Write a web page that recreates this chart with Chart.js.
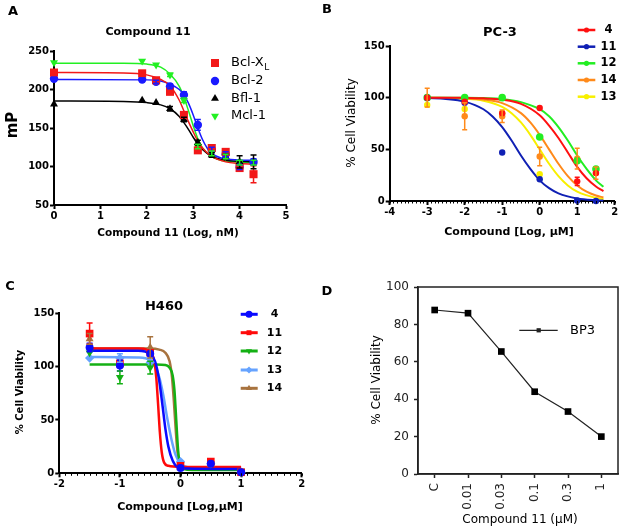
<!DOCTYPE html>
<html>
<head>
<meta charset="utf-8">
<script src="https://cdn.jsdelivr.net/npm/chart.js@4.4.0/dist/chart.umd.min.js"></script>
<style>
  html, body { margin: 0; padding: 0; background: #fff; }
  #fig { position: relative; width: 624px; height: 530px; }
  #fig canvas { position: absolute; display: block; }
</style>
</head>
<body>
<div id="fig">
  <canvas id="chartA" width="312" height="265" style="left:0;top:0"></canvas>
  <canvas id="chartB" width="312" height="265" style="left:312px;top:0"></canvas>
  <canvas id="chartC" width="312" height="265" style="left:0;top:265px"></canvas>
  <canvas id="chartD" width="312" height="265" style="left:312px;top:265px"></canvas>
</div>
<script>
// ---- Panel A: FP assay, Compound 11 (Log, nM) vs mP ----
const aDoses = [0, 1.9, 2.2, 2.5, 2.8, 3.1, 3.4, 3.7, 4.0, 4.3];
const aBclXL = [222, 221, 212, 197, 167, 121, 124, 119, 98, 90];
const aBclXLErr = [2, 2, 2, 3, 3, 3, 3, 3, 3, 11];
const aBcl2 = [214, 213, 210, 204, 193, 154, 122, 116, 99, 106];
const aBcl2Err = [2, 2, 2, 3, 4, 7, 3, 3, 3, 4];
const aBfl1 = [181, 186, 183, 175, 161, 131, 115, 113, 106, 106];
const aBfl1Err = [0, 0, 0, 3, 3, 3, 3, 3, 8, 9];
const aMcl1 = [235, 237, 232, 219, 186, 126, 117, 113, 105, 105];
const aMcl1Err = [0, 0, 0, 2, 3, 3, 3, 3, 3, 3];
// fitted curves, [log dose, mP]
const aFitBclXL = [[0,222],[1.5,221.5],[2,219],[2.3,213],[2.5,205],[2.7,186],[2.8,172],[2.9,158],[3.0,145],[3.1,133],[3.2,124],[3.4,113],[3.7,106],[4.0,104],[4.3,103]];
const aFitBcl2 = [[0,213],[2,212.5],[2.3,211],[2.5,207],[2.7,200],[2.8,193],[2.9,182],[3.0,167],[3.1,150],[3.2,135],[3.3,124],[3.4,117],[3.6,111],[4.0,108.5],[4.3,108]];
const aFitBfl1 = [[0,185],[1.5,184.5],[2,183],[2.3,180],[2.5,175],[2.7,165],[2.8,157],[2.9,148],[3.0,138],[3.1,129],[3.2,122],[3.4,113],[3.7,108],[4.3,106]];
const aFitMcl1 = [[0,234],[1.5,234],[2,233],[2.3,229],[2.5,220],[2.7,204],[2.8,190],[2.9,172],[3.0,153],[3.1,136],[3.2,124],[3.4,113],[3.7,107],[4.3,105]];

// ---- Panel B: PC-3 viability ----
const bDoses = [-3, -2, -1, 0, 1, 1.5];
const b4 = [100, 96, 85, 90, 19, 27];
const b4Err = [0, 0, 0, 0, 4, 0];
const b11 = [100, 95, 47, 21, 0.5, 0];
const b12 = [100, 100, 100, 62, 39, 31];
const b14 = [100, 82, 82, 43, 41, 27];
const b14Err = [9, 13, 6, 9, 10, 6];
const b13 = [93, 89, 85, 26, null, null];
const bFit4 = [[-3,100],[-2,99.8],[-1.5,99.4],[-1,98],[-0.5,94],[0,83],[0.25,73],[0.5,61],[0.75,47],[1,33],[1.25,22],[1.5,14],[1.7,9.5]];
const bFit11 = [[-3,99.6],[-2.5,98.8],[-2,96.2],[-1.5,88.8],[-1.25,81.5],[-1,71.5],[-0.75,58.5],[-0.5,44],[-0.25,31],[0,20],[0.25,12.4],[0.5,7.4],[1,2.5],[1.5,0.8],[1.7,0.5]];
const bFit12 = [[-3,100],[-2,99.9],[-1.5,99.6],[-1,98.8],[-0.5,95.7],[0,88.8],[0.25,82],[0.5,71.5],[0.75,58.5],[1,44],[1.25,31],[1.5,20],[1.7,13.7]];
const bFit14 = [[-3,100],[-2,99.4],[-1.5,98.2],[-1,94.7],[-0.5,85],[-0.25,76],[0,64],[0.25,50],[0.5,36],[0.75,24],[1,15],[1.25,9],[1.5,5.3],[1.7,3.4]];
const bFit13 = [[-3,99.9],[-2,99],[-1.5,97],[-1,91],[-0.75,85],[-0.5,76],[-0.25,64],[0,50],[0.25,36],[0.5,24],[0.75,15],[1,9],[1.5,3],[1.7,2]];

// ---- Panel C: H460 viability ----
const cDoses = [-1.5, -1, -0.5, 0, 0.5, 1];
const c4 = [118, 101, 112, 5, 9, 1];
const c4Err = [4, 5, 0, 0, 0, 0];
const c11 = [131, 103, 113, 7, 11, 1];
const c11Err = [10, 0, 0, 0, 0, 0];
const c12 = [113, 90, 99, 8, 9, 2];
const c12Err = [0, 6, 6, 0, 0, 0];
const c13 = [108, 108, 104, 11, 9, 1];
const c13Err = [0, 4, 0, 0, 0, 0];
const c14 = [126, 103, 118, 5, 8, 1];
const c14Err = [5, 0, 10, 0, 0, 0];
const cFit4 = [[-1.5,115],[-0.7,115],[-0.5,112],[-0.42,105],[-0.36,90],[-0.3,65],[-0.25,42],[-0.2,25],[-0.13,12],[-0.05,6],[0.1,4.5],[1,4]];
const cFit11 = [[-1.5,117],[-0.7,117],[-0.55,116],[-0.48,113],[-0.43,104],[-0.4,90],[-0.37,65],[-0.34,38],[-0.31,20],[-0.27,10],[-0.2,7],[0,6],[1,6]];
const cFit12 = [[-1.5,102],[-0.4,102],[-0.25,101.5],[-0.18,99],[-0.13,92],[-0.1,78],[-0.08,60],[-0.06,40],[-0.04,22],[-0.01,9],[0.05,4],[0.2,3],[1,3]];
const cFit13 = [[-1.5,109],[-0.7,108.5],[-0.5,106],[-0.42,101],[-0.35,90],[-0.28,72],[-0.22,52],[-0.15,32],[-0.08,17],[0,9],[0.1,6],[0.3,5],[1,5]];
const cFit14 = [[-1.5,117],[-0.5,117],[-0.35,116],[-0.25,113],[-0.18,105],[-0.14,90],[-0.11,68],[-0.08,42],[-0.05,20],[-0.01,8],[0.1,4.5],[0.3,4],[1,4]];

// ---- Panel D: BP3 viability ----
const dLabels = ['C', '0.01', '0.03', '0.1', '0.3', '1'];
const dBP3 = [87.7, 86, 65.5, 44, 33.4, 20];

const FONT = "'DejaVu Sans', 'Liberation Sans', sans-serif";
Chart.defaults.font.family = FONT;
Chart.defaults.color = '#000';
Chart.defaults.animation = false;
Chart.defaults.plugins.legend.display = false;
Chart.defaults.plugins.tooltip.enabled = false;

// error bars, minor ticks, frame, free text and hand-placed legends
const decor = {
  id: 'decor',
  afterDatasetsDraw(chart, args, opts) {
    const ctx = chart.ctx;
    const ys = chart.scales.y;
    chart.data.datasets.forEach((ds, i) => {
      if (!ds.errors) return;
      const meta = chart.getDatasetMeta(i);
      ctx.save();
      ctx.strokeStyle = ds.borderColor;
      ctx.lineWidth = opts.errWidth || 1.5;
      const cap = opts.cap || 3;
      meta.data.forEach((pt, j) => {
        const e = ds.errors[j];
        const v = ds.data[j].y;
        if (!e || v == null) return;
        const y1 = ys.getPixelForValue(v + e), y2 = ys.getPixelForValue(v - e);
        ctx.beginPath();
        ctx.moveTo(pt.x, y1); ctx.lineTo(pt.x, y2);
        ctx.moveTo(pt.x - cap, y1); ctx.lineTo(pt.x + cap, y1);
        ctx.moveTo(pt.x - cap, y2); ctx.lineTo(pt.x + cap, y2);
        ctx.stroke();
      });
      ctx.restore();
    });
  },
  afterDraw(chart, args, opts) {
    const ctx = chart.ctx;
    const area = chart.chartArea;
    ctx.save();
    if (opts.minor) {
      const xs = chart.scales.x;
      const n = Math.round((xs.max - xs.min) / opts.minor.step);
      ctx.strokeStyle = '#000';
      ctx.lineWidth = 1;
      ctx.beginPath();
      for (let k = 0; k <= n; k++) {
        const px = Math.round(xs.getPixelForValue(xs.min + k * opts.minor.step)) + 0.5;
        ctx.moveTo(px, area.bottom);
        ctx.lineTo(px, area.bottom + opts.minor.len);
      }
      ctx.stroke();
    }
    if (opts.frame) {
      ctx.strokeStyle = opts.frame.color;
      ctx.lineWidth = opts.frame.width;
      ctx.strokeRect(area.left, area.top, area.right - area.left, area.bottom - area.top);
    }
    (opts.texts || []).forEach(t => {
      ctx.save();
      ctx.font = (t.bold ? 'bold ' : '') + t.size + 'px ' + FONT;
      ctx.fillStyle = t.color || '#000';
      ctx.textAlign = 'center';
      ctx.textBaseline = 'middle';
      ctx.translate(t.x, t.y);
      if (t.rot) ctx.rotate(t.rot * Math.PI / 180);
      ctx.fillText(t.t, 0, 0);
      ctx.restore();
    });
    const lg = opts.legend;
    if (lg) {
      chart.data.datasets.forEach(ds => {
        if (ds.legendRow == null) return;
        const y = lg.rows[ds.legendRow];
        if (lg.x1 != null) {
          ctx.strokeStyle = ds.borderColor;
          ctx.lineWidth = lg.lw;
          ctx.beginPath();
          ctx.moveTo(lg.x1, y); ctx.lineTo(lg.x2, y);
          ctx.stroke();
        }
        ctx.fillStyle = ds.borderColor;
        ctx.strokeStyle = ds.borderColor;
        Chart.helpers.drawPoint(ctx, {
          pointStyle: ds.pointStyle, radius: lg.r || ds.pointRadius,
          rotation: ds.pointRotation || 0, borderWidth: 0
        }, lg.mx, y);
        const parts = ds.label.split('_');
        ctx.fillStyle = '#000';
        ctx.textBaseline = 'middle';
        ctx.textAlign = lg.align;
        ctx.font = (lg.bold ? 'bold ' : '') + lg.size + 'px ' + FONT;
        ctx.fillText(parts[0], lg.tx, y);
        if (parts[1]) {
          const w = ctx.measureText(parts[0]).width;
          ctx.font = Math.round(lg.size * 0.72) + 'px ' + FONT;
          ctx.textAlign = 'left';
          ctx.fillText(parts[1], lg.tx + w + 0.5, y + lg.size * 0.35);
        }
      });
    }
    ctx.restore();
  }
};

const toPts = (xs, ys) => xs.map((x, i) => ({ x: x, y: ys[i] }));
const toXY = pairs => pairs.map(p => ({ x: p[0], y: p[1] }));

function pointSet(label, xs, ys, errs, color, style, r, row, rot) {
  return {
    label: label, data: toPts(xs, ys), errors: errs, showLine: false,
    borderColor: color, backgroundColor: color, pointStyle: style,
    pointRadius: r, pointRotation: rot || 0, pointBorderWidth: 0,
    legendRow: row, clip: false
  };
}

function fitSet(pairs, color, width) {
  return {
    data: toXY(pairs), borderColor: color, borderWidth: width, pointRadius: 0,
    cubicInterpolationMode: 'monotone', fill: false, clip: false
  };
}

function linAxis(min, max, step, fit) {
  return {
    type: 'linear', min: min, max: max,
    ticks: { stepSize: step, autoSkip: false, maxRotation: 0, color: '#000',
             font: { size: 10, weight: 'bold' }, padding: 1 },
    grid: { drawOnChartArea: false, tickLength: 4, tickWidth: 2, tickColor: '#000' },
    border: { color: '#000', width: 2 },
    afterFit: fit
  };
}

// Panel A
const red = '#f21818', blue = '#1a1aff', lime = '#22f022';
new Chart(document.getElementById('chartA'), {
  type: 'line',
  data: {
    datasets: [
      pointSet('Bcl-X_L', aDoses, aBclXL, aBclXLErr, red, 'rect', 5.7, 0),
      pointSet('Bcl-2', aDoses, aBcl2, aBcl2Err, blue, 'circle', 4.2, 1),
      pointSet('Bfl-1', aDoses, aBfl1, aBfl1Err, '#000', 'triangle', 4.6, 2),
      pointSet('Mcl-1', aDoses, aMcl1, aMcl1Err, lime, 'triangle', 4.6, 3, 180),
      fitSet(aFitBclXL, red, 1.5),
      fitSet(aFitBcl2, blue, 1.5),
      fitSet(aFitBfl1, '#000', 1.5),
      fitSet(aFitMcl1, lime, 1.5)
    ]
  },
  options: {
    responsive: false,
    layout: { padding: { top: 51, right: 26, bottom: 0, left: 0 } },
    scales: {
      x: linAxis(0, 5, 1, s => { s.height = 60; }),
      y: linAxis(50, 250, 50, s => { s.width = 54; })
    },
    plugins: {
      decor: {
        cap: 3, errWidth: 1.5,
        texts: [
          { t: 'A', x: 13, y: 12, size: 13, bold: true },
          { t: 'Compound 11', x: 148, y: 32, size: 11, bold: true },
          { t: 'mP', x: 13, y: 125, size: 15, bold: true, rot: -90 },
          { t: 'Compound 11 (Log, nM)', x: 168, y: 233, size: 10.5, bold: true }
        ],
        legend: { rows: [63, 81, 98.5, 116], mx: 215, tx: 231, align: 'left', size: 13, bold: false }
      }
    }
  },
  plugins: [decor]
});

// Panel B
const bRed = '#ff1010', bBlue = '#1020b4', bGreen = '#22ee22', bOrange = '#ff8a1a', bYellow = '#f8f000';
new Chart(document.getElementById('chartB'), {
  type: 'line',
  data: {
    datasets: [
      pointSet('4', bDoses, b4, b4Err, bRed, 'circle', 3.2, 0),
      pointSet('11', bDoses, b11, null, bBlue, 'circle', 3.2, 1),
      pointSet('12', bDoses, b12, null, bGreen, 'circle', 3.8, 2),
      pointSet('14', bDoses, b14, b14Err, bOrange, 'circle', 3.2, 3),
      pointSet('13', bDoses, b13, null, bYellow, 'circle', 3.2, 4),
      fitSet(bFit4, bRed, 2),
      fitSet(bFit11, bBlue, 2),
      fitSet(bFit12, bGreen, 2),
      fitSet(bFit14, bOrange, 2),
      fitSet(bFit13, bYellow, 2)
    ]
  },
  options: {
    responsive: false,
    layout: { padding: { top: 46, right: 9.3, bottom: 0, left: 0 } },
    scales: {
      x: linAxis(-4, 2, 1, s => { s.height = 64; }),
      y: linAxis(0, 150, 50, s => { s.width = 77.7; })
    },
    plugins: {
      decor: {
        cap: 2.5, errWidth: 1.5,
        minor: { step: 0.1, len: 2.5 },
        texts: [
          { t: 'B', x: 15, y: 10, size: 13, bold: true },
          { t: 'PC-3', x: 188, y: 33, size: 13, bold: true },
          { t: '% Cell Viability', x: 40, y: 123, size: 12, rot: -90 },
          { t: 'Compound [Log, µM]', x: 197, y: 232, size: 11, bold: true }
        ],
        legend: { rows: [30, 46.7, 63.3, 80, 96.7], x1: 265.7, x2: 283.3, mx: 274.5, lw: 2.5, r: 2.6,
                  tx: 296.5, align: 'center', size: 11.5, bold: true }
      }
    }
  },
  plugins: [decor]
});

// Panel C
const cBlue = '#0a0aff', cRed = '#ff0a0a', cGreen = '#14b014', cLight = '#66a3ff', cBrown = '#a8733f';
new Chart(document.getElementById('chartC'), {
  type: 'line',
  data: {
    datasets: [
      pointSet('4', cDoses, c4, c4Err, cBlue, 'circle', 4, 0),
      pointSet('11', cDoses, c11, c11Err, cRed, 'rect', 5.4, 1),
      pointSet('12', cDoses, c12, c12Err, cGreen, 'triangle', 4.6, 2, 180),
      pointSet('13', cDoses, c13, c13Err, cLight, 'rectRot', 4.6, 3),
      pointSet('14', cDoses, c14, c14Err, cBrown, 'triangle', 4.6, 4),
      fitSet(cFit4, cBlue, 2.5),
      fitSet(cFit11, cRed, 2.5),
      fitSet(cFit12, cGreen, 2.5),
      fitSet(cFit13, cLight, 2.5),
      fitSet(cFit14, cBrown, 2.5)
    ]
  },
  options: {
    responsive: false,
    layout: { padding: { top: 48.3, right: 10.3, bottom: 0, left: 0 } },
    scales: {
      x: linAxis(-2, 2, 1, s => { s.height = 56.7; }),
      y: linAxis(0, 150, 50, s => { s.width = 59.3; })
    },
    plugins: {
      decor: {
        cap: 3, errWidth: 1.5,
        minor: { step: 0.1, len: 2.5 },
        texts: [
          { t: 'C', x: 10, y: 22, size: 13, bold: true },
          { t: 'H460', x: 164, y: 42, size: 13, bold: true },
          { t: '% Cell Viability', x: 20, y: 127, size: 10, bold: true, rot: -90 },
          { t: 'Compound [Log,µM]', x: 180, y: 242, size: 11, bold: true }
        ],
        legend: { rows: [49.3, 67.7, 86, 105, 123.3], x1: 240.7, x2: 257.7, mx: 249, lw: 3, r: 3.5,
                  tx: 274.5, align: 'center', size: 11, bold: true }
      }
    }
  },
  plugins: [decor]
});

// Panel D
new Chart(document.getElementById('chartD'), {
  type: 'line',
  data: {
    labels: dLabels,
    datasets: [{
      label: 'BP3', data: dBP3, borderColor: '#222', backgroundColor: '#000',
      borderWidth: 1.2, pointStyle: 'rect', pointRadius: 4.7, pointBorderWidth: 0,
      tension: 0, legendRow: 0, clip: false
    }]
  },
  options: {
    responsive: false,
    layout: { padding: { top: 22, right: 6, bottom: 0, left: 0 } },
    scales: {
      x: {
        type: 'category', offset: true,
        ticks: { minRotation: 90, maxRotation: 90, autoSkip: false, color: '#222', font: { size: 12 }, padding: 5 },
        grid: { drawOnChartArea: false, tickLength: 4, tickWidth: 1.5, tickColor: '#222' },
        border: { color: '#222', width: 1.5 },
        afterFit: s => { s.height = 56; }
      },
      y: {
        min: 0, max: 100,
        ticks: { stepSize: 20, color: '#222', font: { size: 12 }, padding: 5 },
        grid: { drawOnChartArea: false, tickLength: 4, tickWidth: 1.5, tickColor: '#222' },
        border: { color: '#222', width: 1.5 },
        afterFit: s => { s.width = 106; }
      }
    },
    plugins: {
      decor: {
        frame: { color: '#222', width: 1.5 },
        texts: [
          { t: 'D', x: 15, y: 27, size: 13, bold: true },
          { t: '% Cell Viability', x: 65, y: 115, size: 12, rot: -90 },
          { t: 'Compound 11 (µM)', x: 208, y: 255, size: 12 }
        ],
        legend: { rows: [65.3], x1: 207.3, x2: 245.7, mx: 226.7, lw: 1.2, r: 3,
                  tx: 258, align: 'left', size: 13, bold: false }
      }
    }
  },
  plugins: [decor]
});
</script>
</body>
</html>
